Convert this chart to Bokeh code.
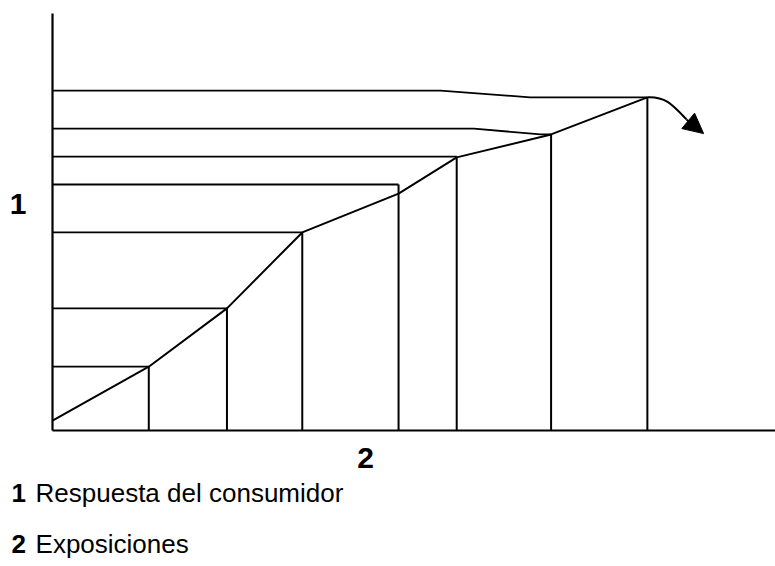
from bokeh.plotting import figure
from bokeh.models import Range1d, Label, Arrow, NormalHead
from bokeh.embed import file_html
from bokeh.resources import INLINE

# ---- data ----
exposures = [1.01, 1.83, 2.62, 3.63, 4.24, 5.23, 6.24]
curve_start = 0.24
response = [1.53, 2.93, 4.75, 5.68, 6.55, 7.10, 7.99]
guide_level = [1.53, 2.93, 4.75, 5.90, 6.57, 7.24, 8.15]
bar_top = [1.53, 2.93, 4.75, 5.90, 6.57, 7.10, 7.99]
guide_bend_start = [1.01, 1.83, 2.62, 3.63, 4.24, 4.42, 4.07]
guide_bend_end = [1.01, 1.83, 2.62, 3.63, 4.24, 5.12, 5.01]
arrow_x = [6.24, 6.43, 6.50, 6.65, 6.83]
arrow_y = [7.99, 8.01, 7.82, 7.46, 7.12]
y_axis_top = 10.0
y_label = "1"
x_label = "2"
legend_keys = ["1", "2"]
legend_texts = ["Respuesta del consumidor", "Exposiciones"]

FONT = "Liberation Sans"
X0, X1 = -0.5455, 7.584
Y0, Y1 = -3.261, 10.312

p = figure(width=775, height=566, x_range=Range1d(X0, X1), y_range=Range1d(Y0, Y1),
           min_border=0, output_backend="svg", toolbar_location=None)
p.axis.visible = False
p.grid.visible = False
p.outline_line_color = None
p.background_fill_color = "white"

# axes
p.segment(x0=[0, 0], y0=[0, 0], x1=[0, X1], y1=[y_axis_top, 0],
          line_color="black", line_width=2.2)

# guides from the response axis to each exposure bar
gx, gy = [], []
for lvl, b0, b1, x, top in zip(guide_level, guide_bend_start, guide_bend_end, exposures, bar_top):
    gx.append([0, b0, b1, x])
    gy.append([lvl, lvl, top, top])
p.multi_line(gx, gy, line_color="black", line_width=1.8)

# vertical bars
p.segment(x0=exposures, y0=[0] * len(exposures), x1=exposures, y1=bar_top,
          line_color="black", line_width=2)

# response curve
p.line([0] + exposures, [curve_start] + response, line_color="black", line_width=2)

# curved arrow at the end
p.bezier(x0=arrow_x[0], y0=arrow_y[0], x1=arrow_x[3], y1=arrow_y[3],
         cx0=arrow_x[1], cy0=arrow_y[1], cx1=arrow_x[2], cy1=arrow_y[2],
         line_color="black", line_width=2)
p.add_layout(Arrow(end=NormalHead(size=20, fill_color="black", line_color="black"),
                   x_start=arrow_x[3], y_start=arrow_y[3], x_end=arrow_x[4], y_end=arrow_y[4],
                   line_color="black", line_width=2))

# axis labels
p.add_layout(Label(x=-0.362, y=5.42, text=y_label, text_font=FONT, text_font_style="bold",
                   text_font_size="30px", text_color="black",
                   text_align="center", text_baseline="alphabetic"))
p.add_layout(Label(x=3.283, y=-0.67, text=x_label, text_font=FONT, text_font_style="bold",
                   text_font_size="30px", text_color="black",
                   text_align="center", text_baseline="alphabetic"))

# key lines
for key, txt, yy in zip(legend_keys, legend_texts, [-1.51, -2.73]):
    p.add_layout(Label(x=-0.43, y=yy, text=key, text_font=FONT, text_font_style="bold",
                       text_font_size="26px", text_color="black",
                       text_align="left", text_baseline="alphabetic"))
    p.add_layout(Label(x=-0.178, y=yy, text=txt, text_font=FONT, text_color="black",
                       text_font_size="26px", text_align="left", text_baseline="alphabetic"))

open("out.html", "w").write(file_html(p, INLINE))
